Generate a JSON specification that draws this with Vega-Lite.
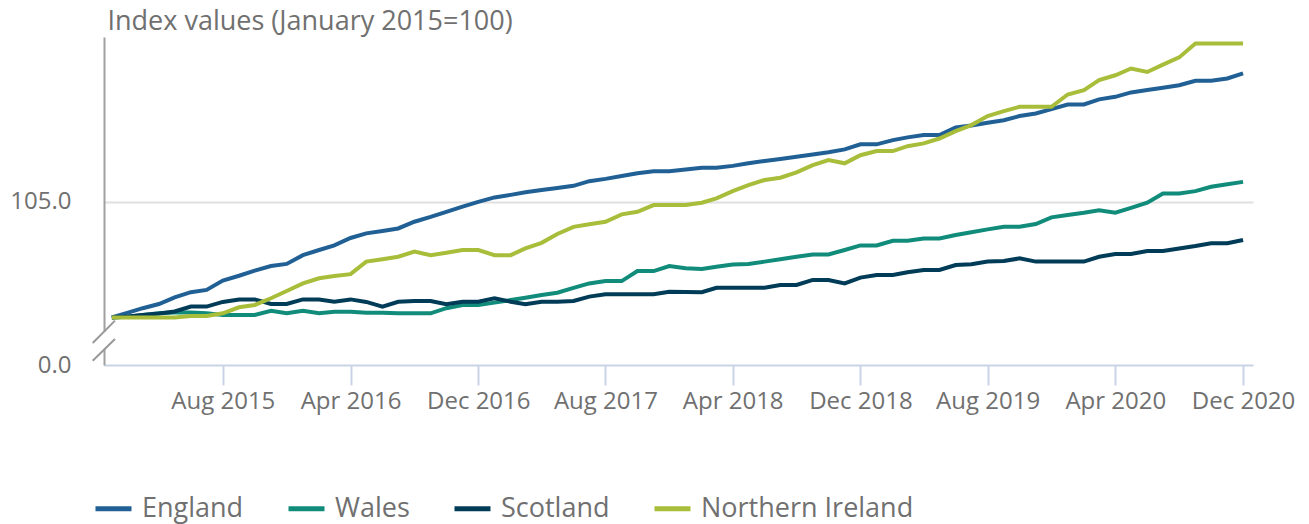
{
  "$schema": "https://vega.github.io/schema/vega-lite/v6.json",
  "width": 1149,
  "height": 328,
  "autosize": {"type": "none"},
  "padding": {"left": 104, "top": 37, "right": 56, "bottom": 159},
  "background": "white",
  "config": {"font": "Open Sans", "view": {"stroke": null}},
  "datasets": {
    "index": [
      {"date":"2015-01-01","region":"England","value":100.00},
      {"date":"2015-02-01","region":"England","value":100.21},
      {"date":"2015-03-01","region":"England","value":100.40},
      {"date":"2015-04-01","region":"England","value":100.58},
      {"date":"2015-05-01","region":"England","value":100.87},
      {"date":"2015-06-01","region":"England","value":101.09},
      {"date":"2015-07-01","region":"England","value":101.19},
      {"date":"2015-08-01","region":"England","value":101.59},
      {"date":"2015-09-01","region":"England","value":101.80},
      {"date":"2015-10-01","region":"England","value":102.02},
      {"date":"2015-11-01","region":"England","value":102.22},
      {"date":"2015-12-01","region":"England","value":102.31},
      {"date":"2016-01-01","region":"England","value":102.69},
      {"date":"2016-02-01","region":"England","value":102.91},
      {"date":"2016-03-01","region":"England","value":103.11},
      {"date":"2016-04-01","region":"England","value":103.43},
      {"date":"2016-05-01","region":"England","value":103.63},
      {"date":"2016-06-01","region":"England","value":103.73},
      {"date":"2016-07-01","region":"England","value":103.84},
      {"date":"2016-08-01","region":"England","value":104.13},
      {"date":"2016-09-01","region":"England","value":104.34},
      {"date":"2016-10-01","region":"England","value":104.56},
      {"date":"2016-11-01","region":"England","value":104.78},
      {"date":"2016-12-01","region":"England","value":104.99},
      {"date":"2017-01-01","region":"England","value":105.18},
      {"date":"2017-02-01","region":"England","value":105.29},
      {"date":"2017-03-01","region":"England","value":105.40},
      {"date":"2017-04-01","region":"England","value":105.50},
      {"date":"2017-05-01","region":"England","value":105.59},
      {"date":"2017-06-01","region":"England","value":105.68},
      {"date":"2017-07-01","region":"England","value":105.88},
      {"date":"2017-08-01","region":"England","value":105.98},
      {"date":"2017-09-01","region":"England","value":106.10},
      {"date":"2017-10-01","region":"England","value":106.22},
      {"date":"2017-11-01","region":"England","value":106.31},
      {"date":"2017-12-01","region":"England","value":106.31},
      {"date":"2018-01-01","region":"England","value":106.38},
      {"date":"2018-02-01","region":"England","value":106.46},
      {"date":"2018-03-01","region":"England","value":106.46},
      {"date":"2018-04-01","region":"England","value":106.54},
      {"date":"2018-05-01","region":"England","value":106.65},
      {"date":"2018-06-01","region":"England","value":106.75},
      {"date":"2018-07-01","region":"England","value":106.84},
      {"date":"2018-08-01","region":"England","value":106.93},
      {"date":"2018-09-01","region":"England","value":107.03},
      {"date":"2018-10-01","region":"England","value":107.13},
      {"date":"2018-11-01","region":"England","value":107.25},
      {"date":"2018-12-01","region":"England","value":107.47},
      {"date":"2019-01-01","region":"England","value":107.47},
      {"date":"2019-02-01","region":"England","value":107.65},
      {"date":"2019-03-01","region":"England","value":107.77},
      {"date":"2019-04-01","region":"England","value":107.87},
      {"date":"2019-05-01","region":"England","value":107.87},
      {"date":"2019-06-01","region":"England","value":108.20},
      {"date":"2019-07-01","region":"England","value":108.28},
      {"date":"2019-08-01","region":"England","value":108.40},
      {"date":"2019-09-01","region":"England","value":108.51},
      {"date":"2019-10-01","region":"England","value":108.69},
      {"date":"2019-11-01","region":"England","value":108.80},
      {"date":"2019-12-01","region":"England","value":108.99},
      {"date":"2020-01-01","region":"England","value":109.19},
      {"date":"2020-02-01","region":"England","value":109.19},
      {"date":"2020-03-01","region":"England","value":109.41},
      {"date":"2020-04-01","region":"England","value":109.52},
      {"date":"2020-05-01","region":"England","value":109.71},
      {"date":"2020-06-01","region":"England","value":109.81},
      {"date":"2020-07-01","region":"England","value":109.91},
      {"date":"2020-08-01","region":"England","value":110.02},
      {"date":"2020-09-01","region":"England","value":110.21},
      {"date":"2020-10-01","region":"England","value":110.21},
      {"date":"2020-11-01","region":"England","value":110.31},
      {"date":"2020-12-01","region":"England","value":110.53},
      {"date":"2015-01-01","region":"Wales","value":100.00},
      {"date":"2015-02-01","region":"Wales","value":100.03},
      {"date":"2015-03-01","region":"Wales","value":100.11},
      {"date":"2015-04-01","region":"Wales","value":100.18},
      {"date":"2015-05-01","region":"Wales","value":100.21},
      {"date":"2015-06-01","region":"Wales","value":100.21},
      {"date":"2015-07-01","region":"Wales","value":100.18},
      {"date":"2015-08-01","region":"Wales","value":100.11},
      {"date":"2015-09-01","region":"Wales","value":100.11},
      {"date":"2015-10-01","region":"Wales","value":100.11},
      {"date":"2015-11-01","region":"Wales","value":100.29},
      {"date":"2015-12-01","region":"Wales","value":100.18},
      {"date":"2016-01-01","region":"Wales","value":100.29},
      {"date":"2016-02-01","region":"Wales","value":100.18},
      {"date":"2016-03-01","region":"Wales","value":100.25},
      {"date":"2016-04-01","region":"Wales","value":100.25},
      {"date":"2016-05-01","region":"Wales","value":100.20},
      {"date":"2016-06-01","region":"Wales","value":100.20},
      {"date":"2016-07-01","region":"Wales","value":100.18},
      {"date":"2016-08-01","region":"Wales","value":100.18},
      {"date":"2016-09-01","region":"Wales","value":100.18},
      {"date":"2016-10-01","region":"Wales","value":100.40},
      {"date":"2016-11-01","region":"Wales","value":100.54},
      {"date":"2016-12-01","region":"Wales","value":100.54},
      {"date":"2017-01-01","region":"Wales","value":100.64},
      {"date":"2017-02-01","region":"Wales","value":100.75},
      {"date":"2017-03-01","region":"Wales","value":100.85},
      {"date":"2017-04-01","region":"Wales","value":100.97},
      {"date":"2017-05-01","region":"Wales","value":101.07},
      {"date":"2017-06-01","region":"Wales","value":101.28},
      {"date":"2017-07-01","region":"Wales","value":101.47},
      {"date":"2017-08-01","region":"Wales","value":101.57},
      {"date":"2017-09-01","region":"Wales","value":101.57},
      {"date":"2017-10-01","region":"Wales","value":102.00},
      {"date":"2017-11-01","region":"Wales","value":102.00},
      {"date":"2017-12-01","region":"Wales","value":102.22},
      {"date":"2018-01-01","region":"Wales","value":102.12},
      {"date":"2018-02-01","region":"Wales","value":102.09},
      {"date":"2018-03-01","region":"Wales","value":102.19},
      {"date":"2018-04-01","region":"Wales","value":102.29},
      {"date":"2018-05-01","region":"Wales","value":102.31},
      {"date":"2018-06-01","region":"Wales","value":102.41},
      {"date":"2018-07-01","region":"Wales","value":102.51},
      {"date":"2018-08-01","region":"Wales","value":102.62},
      {"date":"2018-09-01","region":"Wales","value":102.72},
      {"date":"2018-10-01","region":"Wales","value":102.72},
      {"date":"2018-11-01","region":"Wales","value":102.91},
      {"date":"2018-12-01","region":"Wales","value":103.11},
      {"date":"2019-01-01","region":"Wales","value":103.11},
      {"date":"2019-02-01","region":"Wales","value":103.31},
      {"date":"2019-03-01","region":"Wales","value":103.31},
      {"date":"2019-04-01","region":"Wales","value":103.41},
      {"date":"2019-05-01","region":"Wales","value":103.41},
      {"date":"2019-06-01","region":"Wales","value":103.56},
      {"date":"2019-07-01","region":"Wales","value":103.68},
      {"date":"2019-08-01","region":"Wales","value":103.80},
      {"date":"2019-09-01","region":"Wales","value":103.91},
      {"date":"2019-10-01","region":"Wales","value":103.91},
      {"date":"2019-11-01","region":"Wales","value":104.03},
      {"date":"2019-12-01","region":"Wales","value":104.32},
      {"date":"2020-01-01","region":"Wales","value":104.42},
      {"date":"2020-02-01","region":"Wales","value":104.52},
      {"date":"2020-03-01","region":"Wales","value":104.63},
      {"date":"2020-04-01","region":"Wales","value":104.52},
      {"date":"2020-05-01","region":"Wales","value":104.73},
      {"date":"2020-06-01","region":"Wales","value":104.95},
      {"date":"2020-07-01","region":"Wales","value":105.35},
      {"date":"2020-08-01","region":"Wales","value":105.35},
      {"date":"2020-09-01","region":"Wales","value":105.45},
      {"date":"2020-10-01","region":"Wales","value":105.64},
      {"date":"2020-11-01","region":"Wales","value":105.75},
      {"date":"2020-12-01","region":"Wales","value":105.85},
      {"date":"2015-01-01","region":"Scotland","value":100.00},
      {"date":"2015-02-01","region":"Scotland","value":100.04},
      {"date":"2015-03-01","region":"Scotland","value":100.11},
      {"date":"2015-04-01","region":"Scotland","value":100.17},
      {"date":"2015-05-01","region":"Scotland","value":100.26},
      {"date":"2015-06-01","region":"Scotland","value":100.47},
      {"date":"2015-07-01","region":"Scotland","value":100.47},
      {"date":"2015-08-01","region":"Scotland","value":100.67},
      {"date":"2015-09-01","region":"Scotland","value":100.78},
      {"date":"2015-10-01","region":"Scotland","value":100.78},
      {"date":"2015-11-01","region":"Scotland","value":100.58},
      {"date":"2015-12-01","region":"Scotland","value":100.58},
      {"date":"2016-01-01","region":"Scotland","value":100.78},
      {"date":"2016-02-01","region":"Scotland","value":100.78},
      {"date":"2016-03-01","region":"Scotland","value":100.68},
      {"date":"2016-04-01","region":"Scotland","value":100.78},
      {"date":"2016-05-01","region":"Scotland","value":100.67},
      {"date":"2016-06-01","region":"Scotland","value":100.47},
      {"date":"2016-07-01","region":"Scotland","value":100.68},
      {"date":"2016-08-01","region":"Scotland","value":100.71},
      {"date":"2016-09-01","region":"Scotland","value":100.71},
      {"date":"2016-10-01","region":"Scotland","value":100.57},
      {"date":"2016-11-01","region":"Scotland","value":100.68},
      {"date":"2016-12-01","region":"Scotland","value":100.68},
      {"date":"2017-01-01","region":"Scotland","value":100.83},
      {"date":"2017-02-01","region":"Scotland","value":100.68},
      {"date":"2017-03-01","region":"Scotland","value":100.57},
      {"date":"2017-04-01","region":"Scotland","value":100.68},
      {"date":"2017-05-01","region":"Scotland","value":100.68},
      {"date":"2017-06-01","region":"Scotland","value":100.71},
      {"date":"2017-07-01","region":"Scotland","value":100.90},
      {"date":"2017-08-01","region":"Scotland","value":101.00},
      {"date":"2017-09-01","region":"Scotland","value":101.00},
      {"date":"2017-10-01","region":"Scotland","value":101.00},
      {"date":"2017-11-01","region":"Scotland","value":101.00},
      {"date":"2017-12-01","region":"Scotland","value":101.11},
      {"date":"2018-01-01","region":"Scotland","value":101.10},
      {"date":"2018-02-01","region":"Scotland","value":101.09},
      {"date":"2018-03-01","region":"Scotland","value":101.28},
      {"date":"2018-04-01","region":"Scotland","value":101.28},
      {"date":"2018-05-01","region":"Scotland","value":101.28},
      {"date":"2018-06-01","region":"Scotland","value":101.28},
      {"date":"2018-07-01","region":"Scotland","value":101.40},
      {"date":"2018-08-01","region":"Scotland","value":101.40},
      {"date":"2018-09-01","region":"Scotland","value":101.62},
      {"date":"2018-10-01","region":"Scotland","value":101.62},
      {"date":"2018-11-01","region":"Scotland","value":101.47},
      {"date":"2018-12-01","region":"Scotland","value":101.72},
      {"date":"2019-01-01","region":"Scotland","value":101.83},
      {"date":"2019-02-01","region":"Scotland","value":101.83},
      {"date":"2019-03-01","region":"Scotland","value":101.95},
      {"date":"2019-04-01","region":"Scotland","value":102.05},
      {"date":"2019-05-01","region":"Scotland","value":102.05},
      {"date":"2019-06-01","region":"Scotland","value":102.26},
      {"date":"2019-07-01","region":"Scotland","value":102.30},
      {"date":"2019-08-01","region":"Scotland","value":102.41},
      {"date":"2019-09-01","region":"Scotland","value":102.44},
      {"date":"2019-10-01","region":"Scotland","value":102.55},
      {"date":"2019-11-01","region":"Scotland","value":102.41},
      {"date":"2019-12-01","region":"Scotland","value":102.41},
      {"date":"2020-01-01","region":"Scotland","value":102.41},
      {"date":"2020-02-01","region":"Scotland","value":102.41},
      {"date":"2020-03-01","region":"Scotland","value":102.62},
      {"date":"2020-04-01","region":"Scotland","value":102.74},
      {"date":"2020-05-01","region":"Scotland","value":102.74},
      {"date":"2020-06-01","region":"Scotland","value":102.87},
      {"date":"2020-07-01","region":"Scotland","value":102.87},
      {"date":"2020-08-01","region":"Scotland","value":102.98},
      {"date":"2020-09-01","region":"Scotland","value":103.08},
      {"date":"2020-10-01","region":"Scotland","value":103.20},
      {"date":"2020-11-01","region":"Scotland","value":103.20},
      {"date":"2020-12-01","region":"Scotland","value":103.34},
      {"date":"2015-01-01","region":"Northern Ireland","value":100.00},
      {"date":"2015-02-01","region":"Northern Ireland","value":100.00},
      {"date":"2015-03-01","region":"Northern Ireland","value":100.00},
      {"date":"2015-04-01","region":"Northern Ireland","value":100.00},
      {"date":"2015-05-01","region":"Northern Ireland","value":100.00},
      {"date":"2015-06-01","region":"Northern Ireland","value":100.06},
      {"date":"2015-07-01","region":"Northern Ireland","value":100.06},
      {"date":"2015-08-01","region":"Northern Ireland","value":100.18},
      {"date":"2015-09-01","region":"Northern Ireland","value":100.44},
      {"date":"2015-10-01","region":"Northern Ireland","value":100.54},
      {"date":"2015-11-01","region":"Northern Ireland","value":100.83},
      {"date":"2015-12-01","region":"Northern Ireland","value":101.14},
      {"date":"2016-01-01","region":"Northern Ireland","value":101.47},
      {"date":"2016-02-01","region":"Northern Ireland","value":101.69},
      {"date":"2016-03-01","region":"Northern Ireland","value":101.79},
      {"date":"2016-04-01","region":"Northern Ireland","value":101.87},
      {"date":"2016-05-01","region":"Northern Ireland","value":102.41},
      {"date":"2016-06-01","region":"Northern Ireland","value":102.51},
      {"date":"2016-07-01","region":"Northern Ireland","value":102.62},
      {"date":"2016-08-01","region":"Northern Ireland","value":102.84},
      {"date":"2016-09-01","region":"Northern Ireland","value":102.69},
      {"date":"2016-10-01","region":"Northern Ireland","value":102.79},
      {"date":"2016-11-01","region":"Northern Ireland","value":102.91},
      {"date":"2016-12-01","region":"Northern Ireland","value":102.91},
      {"date":"2017-01-01","region":"Northern Ireland","value":102.69},
      {"date":"2017-02-01","region":"Northern Ireland","value":102.69},
      {"date":"2017-03-01","region":"Northern Ireland","value":102.98},
      {"date":"2017-04-01","region":"Northern Ireland","value":103.22},
      {"date":"2017-05-01","region":"Northern Ireland","value":103.60},
      {"date":"2017-06-01","region":"Northern Ireland","value":103.91},
      {"date":"2017-07-01","region":"Northern Ireland","value":104.02},
      {"date":"2017-08-01","region":"Northern Ireland","value":104.13},
      {"date":"2017-09-01","region":"Northern Ireland","value":104.45},
      {"date":"2017-10-01","region":"Northern Ireland","value":104.56},
      {"date":"2017-11-01","region":"Northern Ireland","value":104.85},
      {"date":"2017-12-01","region":"Northern Ireland","value":104.85},
      {"date":"2018-01-01","region":"Northern Ireland","value":104.85},
      {"date":"2018-02-01","region":"Northern Ireland","value":104.95},
      {"date":"2018-03-01","region":"Northern Ireland","value":105.14},
      {"date":"2018-04-01","region":"Northern Ireland","value":105.45},
      {"date":"2018-05-01","region":"Northern Ireland","value":105.71},
      {"date":"2018-06-01","region":"Northern Ireland","value":105.93},
      {"date":"2018-07-01","region":"Northern Ireland","value":106.03},
      {"date":"2018-08-01","region":"Northern Ireland","value":106.26},
      {"date":"2018-09-01","region":"Northern Ireland","value":106.57},
      {"date":"2018-10-01","region":"Northern Ireland","value":106.79},
      {"date":"2018-11-01","region":"Northern Ireland","value":106.65},
      {"date":"2018-12-01","region":"Northern Ireland","value":107.00},
      {"date":"2019-01-01","region":"Northern Ireland","value":107.18},
      {"date":"2019-02-01","region":"Northern Ireland","value":107.18},
      {"date":"2019-03-01","region":"Northern Ireland","value":107.39},
      {"date":"2019-04-01","region":"Northern Ireland","value":107.51},
      {"date":"2019-05-01","region":"Northern Ireland","value":107.72},
      {"date":"2019-06-01","region":"Northern Ireland","value":108.04},
      {"date":"2019-07-01","region":"Northern Ireland","value":108.30},
      {"date":"2019-08-01","region":"Northern Ireland","value":108.69},
      {"date":"2019-09-01","region":"Northern Ireland","value":108.90},
      {"date":"2019-10-01","region":"Northern Ireland","value":109.09},
      {"date":"2019-11-01","region":"Northern Ireland","value":109.09},
      {"date":"2019-12-01","region":"Northern Ireland","value":109.09},
      {"date":"2020-01-01","region":"Northern Ireland","value":109.62},
      {"date":"2020-02-01","region":"Northern Ireland","value":109.81},
      {"date":"2020-03-01","region":"Northern Ireland","value":110.24},
      {"date":"2020-04-01","region":"Northern Ireland","value":110.45},
      {"date":"2020-05-01","region":"Northern Ireland","value":110.74},
      {"date":"2020-06-01","region":"Northern Ireland","value":110.59},
      {"date":"2020-07-01","region":"Northern Ireland","value":110.91},
      {"date":"2020-08-01","region":"Northern Ireland","value":111.22},
      {"date":"2020-09-01","region":"Northern Ireland","value":111.82},
      {"date":"2020-10-01","region":"Northern Ireland","value":111.82},
      {"date":"2020-11-01","region":"Northern Ireland","value":111.82},
      {"date":"2020-12-01","region":"Northern Ireland","value":111.82}
    ],
    "axisbreak": [
      {"date": "2014-12-17", "value": 99.0}
    ]
  },
  "layer": [
    {
      "data": {"name": "index"},
      "mark": {"type": "line", "strokeWidth": 4},
      "encoding": {
        "x": {
          "field": "date",
          "type": "temporal",
          "scale": {
            "type": "utc",
            "domain": [
              {"year": 2014, "month": 12, "date": 17, "utc": true},
              {"year": 2020, "month": 12, "date": 20, "utc": true}
            ]
          },
          "axis": {
            "title": null,
            "format": "%b %Y",
            "values": [
              {"year": 2015, "month": 8, "date": 1, "utc": true},
              {"year": 2016, "month": 4, "date": 1, "utc": true},
              {"year": 2016, "month": 12, "date": 1, "utc": true},
              {"year": 2017, "month": 8, "date": 1, "utc": true},
              {"year": 2018, "month": 4, "date": 1, "utc": true},
              {"year": 2018, "month": 12, "date": 1, "utc": true},
              {"year": 2019, "month": 8, "date": 1, "utc": true},
              {"year": 2020, "month": 4, "date": 1, "utc": true},
              {"year": 2020, "month": 12, "date": 1, "utc": true}
            ],
            "grid": false,
            "domainColor": "#c9d3e6",
            "domainWidth": 2,
            "tickColor": "#c9d3e6",
            "tickWidth": 2,
            "tickSize": 20,
            "labelFontSize": 24,
            "labelColor": "#707070",
            "labelPadding": 4,
            "labelFlush": false,
            "labelOverlap": false
          }
        },
        "y": {
          "field": "value",
          "type": "quantitative",
          "scale": {"domain": [97.95, 112.1], "zero": false, "nice": false},
          "axis": {
            "title": "Index values (January 2015=100)",
            "titleAngle": 0,
            "titleAlign": "left",
            "titleBaseline": "alphabetic",
            "titleX": 3,
            "titleY": -8,
            "titleFontSize": 27,
            "titleFontWeight": "normal",
            "titleColor": "#707070",
            "values": [97.95, 105],
            "labelExpr": "datum.value < 100 ? '0.0' : format(datum.value, '.1f')",
            "labelFontSize": 24,
            "labelColor": "#707070",
            "labelPadding": 33,
            "ticks": false,
            "tickSize": 0,
            "domainColor": "#a0a0a0",
            "domainWidth": 2,
            "grid": true,
            "gridColor": {"condition": {"test": "datum.value < 100", "value": "transparent"}, "value": "#e0e0e0"},
            "gridWidth": 2
          }
        },
        "color": {
          "field": "region",
          "type": "nominal",
          "scale": {
            "domain": ["England", "Wales", "Scotland", "Northern Ireland"],
            "range": ["#206095", "#118c7b", "#003c57", "#a8bd3a"]
          },
          "legend": {
            "orient": "none",
            "legendX": -11,
            "legendY": 451,
            "direction": "horizontal",
            "title": null,
            "symbolType": "stroke",
            "symbolSize": 1296,
            "symbolStrokeWidth": 5,
            "labelFontSize": 27,
            "labelColor": "#707070",
            "labelOffset": 8,
            "labelLimit": 400,
            "columnPadding": 34,
            "padding": 0
          }
        }
      }
    },
    {
      "data": {"name": "axisbreak"},
      "mark": {"type": "point", "shape": "M -0.15 -0.45 L 0.1 -0.45 L 0.1 0.43 L -0.15 0.43 Z", "filled": true, "fill": "white", "strokeWidth": 0, "opacity": 1, "size": 1600},
      "encoding": {
        "x": {"field": "date", "type": "temporal"},
        "y": {"field": "value", "type": "quantitative"}
      }
    },
    {
      "data": {"name": "axisbreak"},
      "mark": {"type": "point", "shape": "M -0.565 0.115 L 0.55 -1 M -0.565 1 L 0.55 -0.085", "filled": false, "stroke": "#999999", "strokeWidth": 2, "opacity": 1, "size": 1600},
      "encoding": {
        "x": {"field": "date", "type": "temporal"},
        "y": {"field": "value", "type": "quantitative"}
      }
    }
  ]
}
